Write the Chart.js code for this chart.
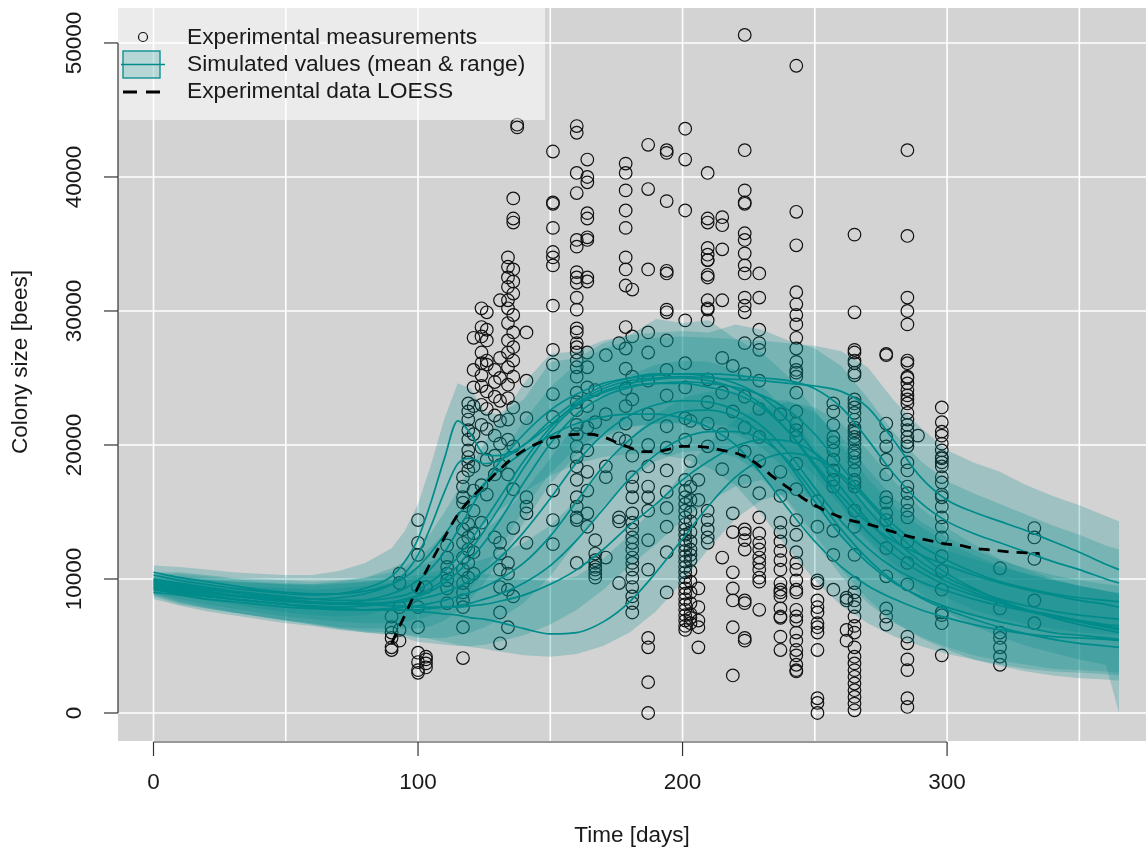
<!DOCTYPE html>
<html>
<head>
<meta charset="utf-8">
<title>Colony size over time</title>
<script src="https://cdn.jsdelivr.net/npm/chart.js@4.4.1/dist/chart.umd.min.js"></script>
<style>
  html, body { margin: 0; padding: 0; background: #fff; }
  #wrap { width: 1146px; height: 852px; }
</style>
</head>
<body>
<div id="wrap"><canvas id="colonyChart"></canvas></div>
<script>
// field measurements: sampling day and the colony sizes counted that day
const obsDays = [90, 93, 100, 103, 111, 117, 119, 121, 124, 126, 129, 131, 134, 136, 137.5, 141, 151, 160, 164, 167,
  171, 176, 178.5, 181, 187, 194, 201, 203, 206, 209.5, 215, 219, 223.5, 229, 237, 243, 251, 257, 262, 265,
  277, 285, 289, 298, 320, 333];
const obsBees = [
  [6400, 6000, 5600, 4900, 4700, 7200],
  [10400, 9700, 7900, 6200, 5400],
  [14400, 12700, 11800, 9400, 7900, 6400, 4500, 3800, 3200, 3000],
  [9400, 4200, 3700, 3400, 4000],
  [11600, 10900, 10400, 9900, 9300, 8200, 12500],
  [4100, 6400, 14600, 13700, 12700, 11600, 10700, 9700, 9000, 8400, 7900, 16900, 17600, 15700, 16100],
  [23100, 22500, 21900, 21100, 20400, 19600, 19100, 18700, 18100, 14100, 13100, 12200, 11200, 10100],
  [25600, 24300, 22900, 20800, 18400, 16600, 15100, 13400, 12000, 10400, 28000],
  [30200, 28800, 28100, 26900, 26100, 25200, 24400, 23000, 21500, 19800, 17000, 14200],
  [29900, 28600, 27800, 26300, 26000, 24000, 22700, 21200, 18900, 16300],
  [25600, 24700, 23600, 22200, 20700, 19200, 17800, 13100],
  [30800, 26500, 25000, 23300, 21800, 20100, 18500, 12700, 11900, 10700, 9400, 7500, 5200],
  [34000, 33300, 32500, 31800, 30800, 30200, 29100, 27800, 26900, 25800, 24500, 23500, 21900, 20400, 17800, 11200, 10400, 9200, 6400],
  [38400, 36900, 36600, 33100, 32200, 31300, 29700, 28400, 27300, 26300, 25100, 22800, 19900, 16700, 13800, 8700],
  [43900, 43700],
  [28400, 16100, 15400, 14900, 12700, 22000, 24800],
  [41900, 38100, 38000, 36200, 34400, 34000, 33400, 30400, 27100, 26000, 23800, 22100, 20200, 16600, 14400, 12600],
  [43800, 43300, 40300, 38800, 35300, 34800, 32900, 32500, 32100, 31000, 30100, 28700, 28400, 27600, 27300, 26900, 26300,
    25800, 25100, 23900, 23200, 22600, 21500, 20800, 19900, 19100, 18400, 17400, 16100, 15400, 14600, 14400, 11200],
  [41300, 40000, 39600, 37300, 36900, 35500, 35300, 32500, 32200, 26900, 25800, 24300, 22900, 21300, 19600, 18000, 16600, 14900, 13900],
  [12900, 11900, 11400, 11200, 10900, 10700, 10400, 10100, 21700, 24100],
  [18400, 17600, 11600, 22300, 26700],
  [14600, 14300, 9700, 20500, 27600],
  [41000, 40300, 39000, 37500, 36200, 34000, 33100, 31900, 28800, 27200, 25700, 24200, 22900, 21600, 20300],
  [31600, 28100, 17600, 16900, 16100, 14900, 14200, 13700, 13100, 12700, 12200, 11600, 11200, 10700, 10100, 9400, 8700, 8200, 7500, 25100, 23400, 19200],
  [42400, 39100, 33100, 28400, 26900, 24800, 22300, 20000, 18400, 16900, 16100, 15100, 12900, 10700, 5600, 4900, 2300, 0],
  [42000, 41800, 38200, 33000, 32800, 29900, 30100, 27800, 25600, 23700, 21400, 19800, 18100, 16500, 15300, 13900, 12000, 9000],
  [43600, 41300, 37500, 29300, 26100, 24300, 22000, 20400, 17400, 16600, 16100, 15600, 15100, 14600, 14100, 13700, 13300, 12900,
    12500, 12100, 11700, 11300, 10900, 10500, 10100, 9700, 9300, 8900, 8500, 8100, 7700, 7300, 6900, 6500, 6200],
  [16900, 15900, 15000, 14300, 13500, 12800, 12200, 11400, 10600, 9800, 9000, 8200, 7400, 6700, 7100, 11800, 18800, 21800],
  [9300, 7900, 6900, 6400, 4900, 15900, 17400],
  [40300, 36900, 36600, 34700, 33800, 32700, 32500, 30100, 29300, 34200, 33800, 30800, 30200, 15100, 14400, 13700, 13100, 12700, 24900, 23200, 21600, 19900],
  [37000, 36400, 34600, 30800, 11600, 26500, 23900, 20800, 18200],
  [14900, 13500, 10500, 9300, 8400, 6400, 2800, 22500, 25900],
  [50600, 42000, 39000, 38100, 38000, 35800, 35300, 34300, 33400, 32800, 31000, 30400, 29900, 13700, 12900, 8200, 5400, 13400,
    12200, 8400, 5600, 27600, 25300, 23600, 21300, 19500, 17300],
  [32800, 31000, 28600, 27600, 27100, 24800, 22700, 20600, 18800, 16400, 14600, 13400, 12700, 12200, 11600, 11200, 10700, 10100, 9800, 7700],
  [14200, 13500, 12800, 12100, 11400, 10700, 9700, 9200, 9000, 8700, 7800, 7200, 7100, 5700, 4700, 22300, 18000, 16200],
  [48300, 37400, 34900, 31400, 30500, 29700, 29000, 28000, 27200, 26200, 25600, 25400, 25100, 23900, 22500, 21600, 21100, 20600,
    11200, 9900, 9200, 9000, 7700, 7200, 6900, 6000, 5400, 4700, 4300, 3600, 3200, 3100, 14400, 13300, 12000, 10700, 18600, 16700],
  [9900, 9700, 8400, 7900, 7500, 6700, 6400, 6000, 4700, 1100, 750, 0, 13900, 15800],
  [23100, 22500, 21500, 20600, 20200, 19600, 18900, 18100, 17400, 16900, 9200, 13600, 11800],
  [8600, 8400, 6200, 5400],
  [35700, 29900, 27100, 26900, 26300, 26100, 25400, 25200, 23400, 23100, 22800, 22400, 21900, 21300, 21100, 20900, 20600, 20400,
    20100, 19600, 19400, 19100, 18700, 18100, 17400, 17200, 16900, 15100, 13900, 9700, 9000, 8400, 7900, 7200, 6500, 6000,
    4900, 4200, 3700, 3200, 2700, 2200, 1700, 1200, 700, 200, 11800],
  [26800, 26700, 21600, 20600, 19900, 18900, 17800, 16100, 15700, 14900, 14400, 7800, 7200, 6600, 12300, 10200],
  [42000, 35600, 31000, 30000, 29000, 26300, 26100, 25100, 25000, 24600, 24100, 23700, 23400, 23100, 22400, 21900, 21500, 21100,
    20600, 20200, 19900, 18700, 18100, 16900, 16400, 15700, 15100, 14600, 5700, 5200, 4000, 3200, 1100, 450, 12800, 11200, 9600],
  [20700],
  [22800, 21700, 21000, 20700, 20100, 19600, 19100, 19000, 18700, 18400, 17600, 17200, 16300, 16100, 15400, 14600, 13900, 13100,
    9200, 7500, 7300, 6700, 4300, 11700, 10600],
  [10800, 7800, 6000, 5600, 4900, 4200, 3600],
  [13800, 13100, 8400, 6700, 11500]
];

// model output, one value per simulated day below
const simDays = [0, 10, 20, 30, 40, 50, 60, 70, 80, 90, 95, 100, 105, 110, 115, 120, 125, 130, 140, 150, 160,
  170, 180, 190, 200, 210, 220, 230, 240, 250, 260, 270, 280, 290, 300, 310, 320, 330, 340, 350, 360, 365];

// mean colony size of each simulated scenario
const sim01 = [10300, 9900, 9600, 9300, 9100, 8900, 8800, 8900, 9300, 10200, 11300, 13000, 15800, 19000, 21800, 20800, 19300, 19200, 20000, 21500, 23000,
  24000, 24600, 24900, 25000, 24800, 24200, 23000, 21000, 18400, 15800, 13500, 11800, 10500, 9500, 8800, 8200, 7700, 7300, 6900, 6500, 6300];
const sim02 = [9800, 9500, 9200, 9000, 8800, 8600, 8500, 8600, 8900, 9600, 10400, 11800, 14000, 16500, 18600, 19000, 18600, 18800, 20000, 21800, 23300,
  24400, 25000, 25300, 25300, 25100, 24600, 23600, 21800, 19400, 16800, 14400, 12400, 10900, 9800, 9000, 8300, 7700, 7200, 6800, 6400, 6200];
const sim03 = [9500, 9200, 8900, 8700, 8500, 8300, 8200, 8200, 8400, 8900, 9300, 9900, 10800, 12000, 13600, 15300, 17000, 18500, 20800, 22600, 23800,
  24600, 25000, 25200, 25300, 25300, 25200, 25000, 24800, 24200, 22800, 20400, 17800, 15700, 14300, 13400, 12700, 12000, 11300, 10700, 10000, 9700];
const sim04 = [10000, 9700, 9400, 9100, 8900, 8700, 8500, 8400, 8400, 8600, 8800, 9200, 9800, 10600, 11600, 12900, 14300, 15800, 18800, 21300, 23100,
  24200, 24800, 25000, 25100, 25000, 24900, 24800, 24600, 24400, 24000, 22800, 20300, 17600, 15900, 15000, 14300, 13600, 12800, 12000, 11100, 10700];
const sim05 = [9200, 8900, 8700, 8500, 8300, 8100, 8000, 7900, 8000, 8200, 8400, 8700, 9100, 9700, 10500, 11500, 12700, 14100, 17200, 20100, 22300,
  23600, 24300, 24600, 24600, 24300, 23800, 22800, 21000, 18600, 16200, 14200, 12800, 11800, 11000, 10300, 9700, 9200, 8800, 8400, 8100, 7900];
const sim06 = [9600, 9300, 9000, 8800, 8600, 8400, 8200, 8100, 8100, 8200, 8300, 8500, 8700, 9000, 9400, 9900, 10600, 11400, 13500, 16000, 18700,
  20800, 22200, 23000, 23300, 23200, 22600, 21400, 19400, 16800, 14300, 12300, 10800, 9800, 9100, 8500, 8000, 7600, 7200, 6900, 6600, 6500];
const sim07 = [9000, 8800, 8500, 8300, 8100, 7900, 7800, 7700, 7700, 7800, 7900, 8000, 8200, 8400, 8700, 9000, 9400, 9900, 11200, 13200, 15800,
  18400, 20400, 21800, 22500, 22600, 22100, 20800, 18600, 15800, 13200, 11200, 9700, 8700, 7900, 7300, 6800, 6400, 6000, 5800, 5600, 5500];
const sim08 = [9400, 9100, 8800, 8500, 8300, 8100, 7900, 7800, 7700, 7700, 7700, 7700, 7800, 7900, 8000, 8200, 8500, 8800, 9700, 11000, 12900,
  15200, 17500, 19300, 20500, 21000, 21000, 20400, 18800, 16300, 13700, 11500, 9800, 8600, 7700, 7000, 6400, 5900, 5500, 5200, 5000, 4900];
const sim09 = [9900, 9600, 9300, 9000, 8700, 8500, 8300, 8200, 8100, 8000, 8000, 7900, 7900, 7900, 7900, 8000, 8100, 8300, 8800, 9600, 10700,
  12200, 14000, 15600, 17400, 18800, 19900, 20400, 20300, 19400, 17600, 15200, 13000, 11300, 10100, 9200, 8500, 8000, 7600, 7300, 7100, 7000];
const sim10 = [9300, 9000, 8700, 8500, 8300, 8100, 7900, 7800, 7700, 7700, 7700, 7600, 7500, 7400, 7300, 7100, 7000, 6800, 6300, 5900, 6000,
  6800, 8300, 10500, 13000, 15500, 17600, 18900, 19400, 19000, 17800, 15800, 13600, 11800, 10400, 9300, 8400, 7700, 7100, 6600, 6200, 6000];
const sim11 = [10500, 10100, 9800, 9500, 9200, 9000, 8900, 8900, 9100, 9600, 10100, 10900, 12000, 13300, 14700, 16000, 17100, 18000, 19500, 20700, 21600,
  22100, 22300, 22300, 22000, 21300, 20000, 17800, 15200, 12800, 10900, 9500, 8500, 7700, 7100, 6600, 6200, 5900, 5700, 5600, 5500, 5400];
const sim12 = [9700, 9400, 9100, 8800, 8600, 8400, 8300, 8200, 8200, 8300, 8500, 8800, 9300, 10000, 11000, 12200, 13600, 15100, 18300, 21000, 22900,
  23900, 24400, 24600, 24700, 24600, 24300, 23700, 22600, 20800, 18400, 16000, 14000, 12500, 11400, 10500, 9800, 9300, 8900, 8600, 8400, 8300];

// min / max range of the scenario groups
const bandLoA = [9300, 8800, 8400, 8100, 7800, 7500, 7300, 7200, 7300, 7800, 8200, 8700, 9400, 10500, 11800, 13000, 14100, 15000, 16500, 17700, 18600,
  19100, 19300, 19300, 19000, 18300, 17000, 14800, 12200, 9900, 8000, 6700, 5700, 5000, 4400, 4000, 3600, 3300, 3100, 3000, 2900, 2800];
const bandHiA = [11000, 10900, 10700, 10500, 10400, 10300, 10300, 10600, 11200, 12300, 13600, 15600, 18600, 22000, 24600, 24200, 22500, 22300, 23400, 26200, 26500,
  27600, 28200, 29400, 29100, 29300, 27900, 26900, 25100, 22600, 20000, 17500, 15400, 13900, 12700, 11800, 11000, 10400, 9900, 9500, 9100, 8900];
const bandLoB = [8900, 8500, 8100, 7800, 7500, 7200, 7000, 6800, 6700, 6700, 6800, 7000, 7300, 7700, 8300, 9300, 10600, 12000, 15200, 17900, 19800,
  20900, 21400, 21600, 21700, 21600, 21300, 20600, 19500, 17700, 15400, 13000, 11100, 9600, 8600, 7700, 7100, 6600, 6300, 6000, 5900, 5800];
const bandHiB = [10300, 10200, 10000, 9800, 9700, 9600, 9600, 9800, 10100, 10800, 11300, 12200, 13500, 15000, 16600, 18400, 20100, 21600, 24600, 26800, 27000,
  27800, 28200, 28400, 28500, 28400, 29000, 28600, 27800, 27200, 25900, 23500, 20900, 18800, 17300, 16400, 15600, 14800, 14000, 13300, 12500, 12200];
const bandLoC = [8700, 8100, 7800, 7500, 7200, 6900, 6700, 6400, 6300, 6300, 6300, 6300, 6500, 6900, 7600, 8500, 9700, 11100, 14200, 17100, 19300,
  20600, 21300, 21600, 21600, 21300, 20800, 19800, 18000, 15600, 13200, 11200, 9800, 8800, 8000, 7300, 6800, 6400, 6100, 5800, 5600, 5400];
const bandHiC = [10500, 10500, 10300, 10100, 10000, 9900, 9800, 9900, 10100, 10500, 10900, 11600, 12400, 13400, 14500, 15900, 17300, 18800, 21800, 24300, 26100,
  27200, 27800, 28000, 28100, 28000, 27900, 27800, 27600, 27400, 27000, 25800, 23300, 21300, 19600, 18700, 18000, 17000, 16200, 15500, 14700, 14300];
const bandLoD = [8500, 8000, 7600, 7300, 7000, 6700, 6500, 6200, 6000, 5900, 5800, 5600, 5600, 5600, 5800, 6000, 6400, 6900, 8200, 10200, 12800,
  15400, 17400, 18800, 19500, 19600, 19100, 17800, 15600, 12800, 10200, 8200, 6700, 5700, 4900, 4300, 3900, 3600, 3300, 3200, 3100, 3000];
const bandHiD = [10100, 10100, 9900, 9800, 9700, 9600, 9500, 9600, 9800, 10100, 10400, 10900, 11300, 11800, 12300, 12900, 13600, 14400, 16500, 19000, 21700,
  23800, 25200, 26000, 26300, 26200, 25600, 24400, 22400, 19800, 17300, 15300, 13800, 12800, 12100, 11500, 10900, 10400, 9900, 9500, 9100, 9000];
const bandLoE = [8900, 8300, 7900, 7500, 7200, 6900, 6600, 6300, 6000, 5800, 5600, 5300, 5200, 5100, 5000, 5000, 5100, 5300, 5800, 6600, 7700,
  9200, 11000, 12600, 14400, 15800, 16900, 17400, 15800, 13300, 10700, 8500, 6800, 5600, 4700, 4000, 3500, 3100, 2800, 2600, 2500, 2400];
const bandHiE = [10400, 10400, 10200, 10000, 9800, 9700, 9600, 9700, 9800, 9900, 10100, 10300, 10500, 10700, 10900, 11200, 11500, 11800, 12700, 14000, 15900,
  18200, 20500, 22300, 23500, 24000, 24000, 23400, 23300, 22400, 20600, 18200, 16000, 14300, 13100, 12200, 11400, 10800, 10300, 9900, 9600, 9500];
const bandLoF = [8800, 8200, 7800, 7500, 7200, 6900, 6600, 6300, 6100, 6000, 5900, 5700, 5500, 5300, 5100, 4900, 4800, 4600, 4300, 4200, 4400,
  5000, 6000, 7600, 9800, 12300, 14500, 15900, 16400, 16000, 14800, 12800, 10700, 8900, 7500, 6500, 5700, 5000, 4500, 4000, 3600, 0];
const bandHiF = [9800, 9800, 9600, 9500, 9400, 9300, 9200, 9300, 9500, 9700, 9900, 10100, 10200, 10300, 10400, 10400, 10400, 10300, 10000, 9800, 10200,
  11500, 13300, 15500, 17900, 20200, 21900, 22800, 23200, 22800, 21600, 19600, 17300, 15300, 13800, 12600, 11500, 10700, 10000, 9500, 9100, 8900];

// LOESS smooth through the field measurements
const loessDays = [90, 95, 100, 105, 110, 115, 120, 125, 130, 135, 140, 145, 150, 155, 160, 165, 170, 175, 180, 185, 190, 195, 200, 205, 210,
  215, 220, 225, 230, 235, 240, 245, 250, 255, 260, 265, 270, 275, 280, 285, 290, 295, 300, 305, 310, 315, 320, 325, 330, 335];
const loessBees = [5200, 7300, 9400, 11300, 13100, 14800, 16000, 17000, 18000, 18900, 19600, 20100, 20500, 20700, 20800, 20800, 20600, 20200, 19800, 19500,
  19500, 19700, 19900, 19900, 19800, 19600, 19400, 19000, 18300, 17500, 16800, 16100, 15500, 15000, 14600, 14300, 14100, 13800, 13500, 13200,
  13000, 12800, 12600, 12500, 12300, 12200, 12100, 12000, 11950, 11900];

const xTicks = [0, 100, 200, 300];
const yTicks = [0, 10000, 20000, 30000, 40000, 50000];
const xGrid = [0, 50, 100, 150, 200, 250, 300, 350];

const TEAL = 'rgb(0,139,139)';
const FONT = '"Liberation Sans", Arial, Helvetica, sans-serif';

const simMeans = [sim01, sim02, sim03, sim04, sim05, sim06, sim07, sim08, sim09, sim10, sim11, sim12];
const simBands = [[bandHiA, bandLoA], [bandHiB, bandLoB], [bandHiC, bandLoC], [bandHiD, bandLoD], [bandHiE, bandLoE], [bandHiF, bandLoF]];

function onDays(values) {
  return simDays.map((d, i) => ({ x: d, y: values[i] }));
}

const obsPoints = [];
obsDays.forEach((d, i) => obsBees[i].forEach(v => obsPoints.push({ x: d, y: v })));

const datasets = [{
  label: 'Experimental measurements',
  data: obsPoints,
  showLine: false,
  pointRadius: 6.3,
  pointBorderWidth: 1.2,
  pointBorderColor: '#111',
  pointBackgroundColor: 'rgba(0,0,0,0)',
  order: 100
}];

simBands.forEach(([hi, lo]) => {
  datasets.push({
    data: onDays(hi), borderWidth: 0, pointRadius: 0,
    fill: '+1', backgroundColor: 'rgba(0,139,139,0.24)', order: 50
  });
  datasets.push({ data: onDays(lo), borderWidth: 0, pointRadius: 0, fill: false, order: 50 });
});

simMeans.forEach(m => {
  datasets.push({
    data: onDays(m), borderColor: TEAL, borderWidth: 1.7, pointRadius: 0,
    fill: false, cubicInterpolationMode: 'monotone', order: 20
  });
});

datasets.push({
  label: 'Experimental data LOESS',
  data: loessDays.map((d, i) => ({ x: d, y: loessBees[i] })),
  borderColor: '#000', borderWidth: 2.8, borderDash: [11, 8], pointRadius: 0,
  fill: false, cubicInterpolationMode: 'monotone', order: 1
});

// grey panel, white grid, legend and R-style axes
const frame = {
  id: 'frame',
  beforeDatasetsDraw(chart) {
    const { ctx, chartArea: a, scales: { x, y } } = chart;
    ctx.save();
    ctx.fillStyle = '#d3d3d3';
    ctx.fillRect(a.left, a.top, a.right - a.left, a.bottom - a.top);
    ctx.strokeStyle = '#ffffff';
    ctx.lineWidth = 1.6;
    xGrid.forEach(d => {
      const px = x.getPixelForValue(d);
      ctx.beginPath(); ctx.moveTo(px, a.top); ctx.lineTo(px, a.bottom); ctx.stroke();
    });
    yTicks.forEach(v => {
      const py = y.getPixelForValue(v);
      ctx.beginPath(); ctx.moveTo(a.left, py); ctx.lineTo(a.right, py); ctx.stroke();
    });
    ctx.restore();
  },
  afterDatasetsDraw(chart) {
    const { ctx, chartArea: a } = chart;
    ctx.save();
    ctx.fillStyle = 'rgba(255,255,255,0.55)';
    ctx.fillRect(a.left, a.top, 545 - a.left, 120 - a.top);

    ctx.strokeStyle = '#111';
    ctx.lineWidth = 1.2;
    ctx.beginPath(); ctx.arc(143, 37, 4.5, 0, Math.PI * 2); ctx.stroke();

    ctx.fillStyle = 'rgba(0,139,139,0.22)';
    ctx.fillRect(123, 51, 37, 27);
    ctx.strokeStyle = TEAL;
    ctx.lineWidth = 1.3;
    ctx.strokeRect(123, 51, 37, 27);
    ctx.beginPath(); ctx.moveTo(121, 64.5); ctx.lineTo(165, 64.5); ctx.stroke();

    ctx.strokeStyle = '#000';
    ctx.lineWidth = 2.8;
    ctx.setLineDash([14, 9]);
    ctx.beginPath(); ctx.moveTo(123, 92); ctx.lineTo(165, 92); ctx.stroke();
    ctx.setLineDash([]);

    ctx.fillStyle = '#1a1a1a';
    ctx.font = '22.8px ' + FONT;
    ctx.textAlign = 'left';
    ctx.textBaseline = 'middle';
    ctx.fillText('Experimental measurements', 187, 38);
    ctx.fillText('Simulated values (mean & range)', 187, 65);
    ctx.fillText('Experimental data LOESS', 187, 92);
    ctx.restore();
  },
  afterDraw(chart) {
    const { ctx, chartArea: a, scales: { x, y } } = chart;
    ctx.save();
    ctx.strokeStyle = '#333';
    ctx.lineWidth = 1.2;
    ctx.fillStyle = '#1a1a1a';
    ctx.font = '22.5px ' + FONT;

    // bottom axis
    const x0 = x.getPixelForValue(xTicks[0]);
    const x1 = x.getPixelForValue(xTicks[xTicks.length - 1]);
    ctx.beginPath(); ctx.moveTo(x0, a.bottom + 1); ctx.lineTo(x1, a.bottom + 1); ctx.stroke();
    ctx.textAlign = 'center';
    ctx.textBaseline = 'middle';
    xTicks.forEach(d => {
      const px = x.getPixelForValue(d);
      ctx.beginPath(); ctx.moveTo(px, a.bottom + 1); ctx.lineTo(px, a.bottom + 15); ctx.stroke();
      ctx.fillText(String(d), px, 783);
    });
    ctx.fillText('Time [days]', (a.left + a.right) / 2, 836);

    // left axis
    const y0 = y.getPixelForValue(yTicks[0]);
    const y1 = y.getPixelForValue(yTicks[yTicks.length - 1]);
    ctx.beginPath(); ctx.moveTo(a.left, y0); ctx.lineTo(a.left, y1); ctx.stroke();
    yTicks.forEach(v => {
      const py = y.getPixelForValue(v);
      ctx.beginPath(); ctx.moveTo(a.left, py); ctx.lineTo(a.left - 14, py); ctx.stroke();
      ctx.save();
      ctx.translate(75, py);
      ctx.rotate(-Math.PI / 2);
      ctx.fillText(String(v), 0, 0);
      ctx.restore();
    });
    ctx.save();
    ctx.translate(21, 362);
    ctx.rotate(-Math.PI / 2);
    ctx.fillText('Colony size [bees]', 0, 0);
    ctx.restore();
    ctx.restore();
  }
};

const ctx = document.getElementById('colonyChart').getContext('2d');
const colonyChart = new Chart(ctx, {
  type: 'line',
  data: { datasets: datasets },
  options: {
    responsive: true,
    maintainAspectRatio: false,
    animation: false,
    events: [],
    layout: { autoPadding: false, padding: { left: 118, top: 8, right: 0, bottom: 111 } },
    plugins: { legend: { display: false }, tooltip: { enabled: false } },
    scales: {
      x: { type: 'linear', min: -13.42, max: 375.2, display: false },
      y: { type: 'linear', min: -2090, max: 52610, display: false }
    },
    elements: { line: { tension: 0 } }
  },
  plugins: [frame]
});
</script>
</body>
</html>
